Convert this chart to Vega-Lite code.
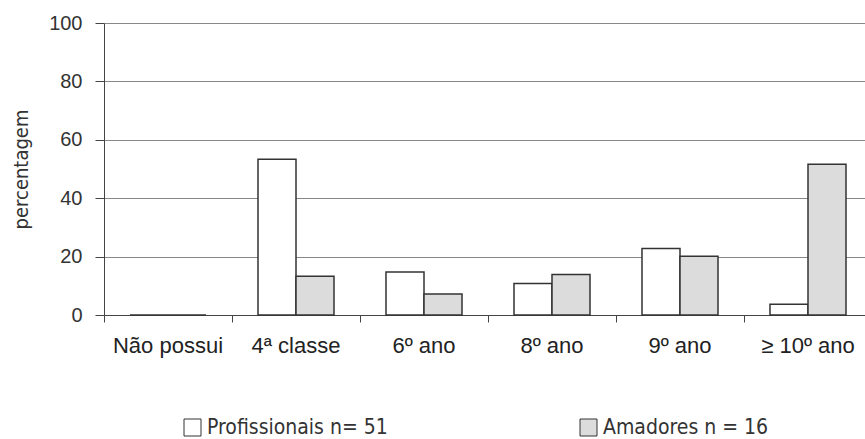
{
  "$schema": "https://vega.github.io/schema/vega-lite/v6.json",
  "width": 768,
  "height": 292,
  "autosize": {"type": "none"},
  "padding": {"left": 104, "top": 23, "right": 0, "bottom": 124},
  "background": "white",
  "config": {"view": {"stroke": null}},
  "data": {
    "values": [
      {"nivel": "Não possui", "grupo": "Profissionais n= 51", "pct": 0},
      {"nivel": "Não possui", "grupo": "Amadores n = 16", "pct": 0},
      {"nivel": "4ª classe", "grupo": "Profissionais n= 51", "pct": 53.3},
      {"nivel": "4ª classe", "grupo": "Amadores n = 16", "pct": 13.3},
      {"nivel": "6º ano", "grupo": "Profissionais n= 51", "pct": 14.7},
      {"nivel": "6º ano", "grupo": "Amadores n = 16", "pct": 7.2},
      {"nivel": "8º ano", "grupo": "Profissionais n= 51", "pct": 10.8},
      {"nivel": "8º ano", "grupo": "Amadores n = 16", "pct": 13.9},
      {"nivel": "9º ano", "grupo": "Profissionais n= 51", "pct": 22.8},
      {"nivel": "9º ano", "grupo": "Amadores n = 16", "pct": 20.1},
      {"nivel": "≥ 10º ano", "grupo": "Profissionais n= 51", "pct": 3.7},
      {"nivel": "≥ 10º ano", "grupo": "Amadores n = 16", "pct": 51.6}
    ]
  },
  "mark": {"type": "bar", "stroke": "#333333", "strokeWidth": 1.5},
  "encoding": {
    "x": {
      "field": "nivel",
      "type": "nominal",
      "sort": ["Não possui", "4ª classe", "6º ano", "8º ano", "9º ano", "≥ 10º ano"],
      "scale": {"paddingInner": 0, "paddingOuter": 0},
      "axis": {
        "title": null,
        "labelAngle": 0,
        "bandPosition": 0,
        "labelFont": "Liberation Sans",
        "labelFontSize": 22,
        "labelColor": "#222222",
        "labelPadding": 13,
        "labelLimit": 300,
        "tickSize": 7,
        "tickColor": "#444444",
        "domainColor": "#444444",
        "grid": false
      }
    },
    "xOffset": {
      "field": "grupo",
      "sort": ["Profissionais n= 51", "Amadores n = 16"],
      "scale": {"paddingInner": 0, "paddingOuter": 0.684}
    },
    "y": {
      "field": "pct",
      "type": "quantitative",
      "scale": {"domain": [0, 100]},
      "axis": {
        "values": [0, 20, 40, 60, 80, 100],
        "title": "percentagem",
        "titleFont": "DejaVu Sans Condensed, DejaVu Sans, sans-serif",
        "titleFontSize": 20,
        "titleFontWeight": "normal",
        "titleColor": "#333333",
        "titlePadding": 17,
        "labelFont": "Liberation Sans",
        "labelFontSize": 20,
        "labelColor": "#333333",
        "labelPadding": 13,
        "tickSize": 9,
        "tickColor": "#444444",
        "domainColor": "#444444",
        "gridColor": "#888888"
      }
    },
    "color": {
      "field": "grupo",
      "type": "nominal",
      "sort": ["Profissionais n= 51", "Amadores n = 16"],
      "scale": {"domain": ["Profissionais n= 51", "Amadores n = 16"], "range": ["#ffffff", "#dcdcdc"]},
      "legend": {
        "orient": "none",
        "legendX": 78,
        "legendY": 394,
        "direction": "horizontal",
        "title": null,
        "symbolType": "square",
        "symbolSize": 289,
        "symbolStrokeColor": "#333333",
        "symbolStrokeWidth": 1,
        "labelFont": "DejaVu Sans Condensed, DejaVu Sans, sans-serif",
        "labelFontSize": 21,
        "labelColor": "#333333",
        "labelOffset": 4,
        "labelLimit": 400,
        "columnPadding": 190
      }
    }
  }
}
